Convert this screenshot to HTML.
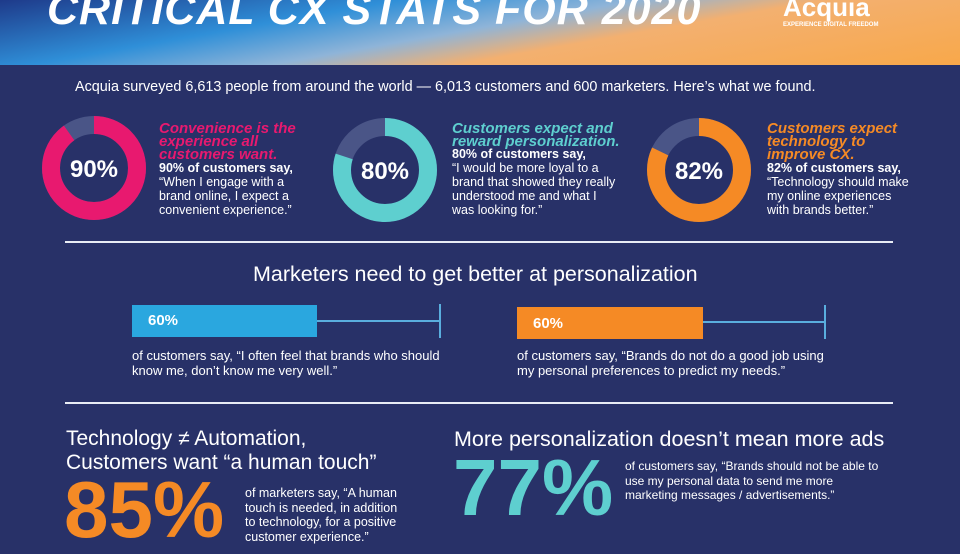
<!DOCTYPE html>
<html><head><meta charset="utf-8"><style>
*{margin:0;padding:0;box-sizing:border-box}
body{width:960px;height:540px;overflow:hidden;background:#283168;font-family:"Liberation Sans",sans-serif;color:#fff;position:relative}
.hdr{position:absolute;left:0;top:0;width:960px;height:65px;background:linear-gradient(170deg,#1e3a8a 0%,#2f8fd8 30%,#8fb4d8 48%,#f3b070 62%,#f8a84a 100%)}
.a{position:absolute;white-space:nowrap}
.h{font-weight:bold;font-style:italic;font-size:15px;line-height:13px}
.t{font-size:12.5px;line-height:14px}
.b{font-weight:bold}
.line{position:absolute;left:65px;width:828px;height:2px;background:#e8ecf5}
</style></head><body>
<div class="hdr"></div>
<div class="a" style="left:47px;top:-14px;font-size:43px;font-weight:bold;font-style:italic;letter-spacing:1px">CRITICAL CX STATS FOR 2020</div>
<div class="a" style="left:783px;top:-8px;font-size:26px;font-weight:bold">Acquia</div>
<div class="a" style="left:783px;top:22px;font-size:6px;font-weight:bold">EXPERIENCE DIGITAL FREEDOM</div>
<div class="a" style="left:75px;top:79px;font-size:14.4px">Acquia surveyed 6,613 people from around the world — 6,013 customers and 600 marketers. Here’s what we found.</div>

<svg class="a" style="left:0;top:0" width="960" height="240">
<g fill="none" stroke-width="18">
<circle cx="94" cy="168" r="43" stroke="#4a5587"/>
<circle cx="94" cy="168" r="43" stroke="#e8196f" stroke-dasharray="243.2 270.2" transform="rotate(-90 94 168)"/>
<circle cx="385" cy="170" r="43" stroke="#4a5587"/>
<circle cx="385" cy="170" r="43" stroke="#5ecfcf" stroke-dasharray="216.1 270.2" transform="rotate(-90 385 170)"/>
<circle cx="699" cy="170" r="43" stroke="#4a5587"/>
<circle cx="699" cy="170" r="43" stroke="#f58a25" stroke-dasharray="221.5 270.2" transform="rotate(-90 699 170)"/>
</g>
<g fill="#fff" font-size="24" font-weight="bold" font-family="Liberation Sans" text-anchor="middle">
<text x="94" y="177">90%</text><text x="385" y="179">80%</text><text x="699" y="179">82%</text></g>
</svg>

<div class="a h" style="left:159px;top:122px;color:#e8196f">Convenience is the<br>experience all<br>customers want.</div>
<div class="a t" style="left:159px;top:161px"><span class="b">90% of customers say,</span><br>“When I engage with a<br>brand online, I expect a<br>convenient experience.”</div>
<div class="a h" style="left:452px;top:122px;color:#5ecfcf">Customers expect and<br>reward personalization.</div>
<div class="a t" style="left:452px;top:147px"><span class="b">80% of customers say,</span><br>“I would be more loyal to a<br>brand that showed they really<br>understood me and what I<br>was looking for.”</div>
<div class="a h" style="left:767px;top:122px;color:#f58a25">Customers expect<br>technology to<br>improve CX.</div>
<div class="a t" style="left:767px;top:161px"><span class="b">82% of customers say,</span><br>“Technology should make<br>my online experiences<br>with brands better.”</div>

<div class="line" style="top:241px"></div>
<div class="a" style="left:253px;top:262px;font-size:21.5px">Marketers need to get better at personalization</div>

<div class="a" style="left:132px;top:305px;width:185px;height:32px;background:#2aa7df"></div>
<div class="a" style="left:148px;top:312px;font-size:15px;font-weight:bold">60%</div>
<div class="a" style="left:317px;top:320px;width:123px;height:2px;background:#5aaede"></div>
<div class="a" style="left:439px;top:304px;width:2px;height:34px;background:#5aaede"></div>
<div class="a t" style="left:132px;top:348px;font-size:13px;line-height:15px">of customers say, “I often feel that brands who should<br>know me, don’t know me very well.”</div>

<div class="a" style="left:517px;top:307px;width:186px;height:32px;background:#f58a25"></div>
<div class="a" style="left:533px;top:315px;font-size:15px;font-weight:bold">60%</div>
<div class="a" style="left:703px;top:321px;width:122px;height:2px;background:#5aaede"></div>
<div class="a" style="left:824px;top:305px;width:2px;height:34px;background:#5aaede"></div>
<div class="a t" style="left:517px;top:348px;font-size:13px;line-height:15px">of customers say, “Brands do not do a good job using<br>my personal preferences to predict my needs.”</div>

<div class="line" style="top:402px"></div>
<div class="a" style="left:66px;top:427px;font-size:21px;line-height:24px">Technology ≠ Automation,<br>Customers want “a human touch”</div>
<div class="a" style="left:64px;top:470px;font-size:80px;line-height:1;font-weight:bold;color:#f58a25">85%</div>
<div class="a t" style="left:245px;top:486px;font-size:12.5px;line-height:14.5px">of marketers say, “A human<br>touch is needed, in addition<br>to technology, for a positive<br>customer experience.”</div>
<div class="a" style="left:454px;top:427px;font-size:21.5px">More personalization doesn’t mean more ads</div>
<div class="a" style="left:453px;top:448px;font-size:80px;line-height:1;font-weight:bold;color:#5ecfcf">77%</div>
<div class="a t" style="left:625px;top:459px;font-size:12px;line-height:14.5px">of customers say, “Brands should not be able to<br>use my personal data to send me more<br>marketing messages / advertisements.”</div>
</body></html>
